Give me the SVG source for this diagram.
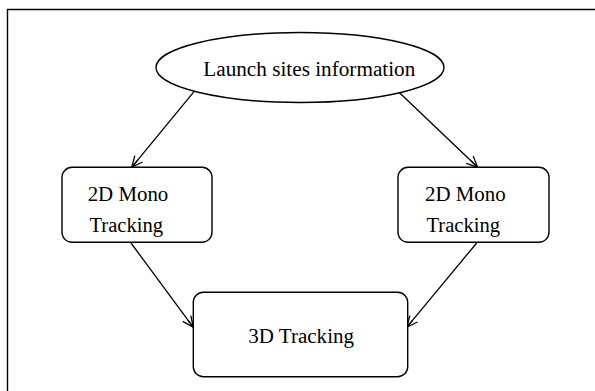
<svg xmlns="http://www.w3.org/2000/svg" width="595" height="391" viewBox="0 0 595 391">
<style>
.shape{fill:#fff;stroke:#000;stroke-width:1.4}
.lbl{font-family:"Liberation Serif","Times New Roman",serif;font-size:20px;fill:#000}
.edge{stroke:#000;stroke-width:1.3;fill:none;marker-end:url(#arr)}
</style>
<defs>
<marker id="arr" viewBox="0 0 13 11" refX="12" refY="5.5" markerWidth="13" markerHeight="11" markerUnits="userSpaceOnUse" orient="auto">
<path d="M1,0.5 L12,5.5 L1,10.5 M3,5.5 L12,5.5" fill="none" stroke="#000" stroke-width="1.3"/>
</marker>
</defs>
<rect width="595" height="391" fill="#fff"/>
<g id="frame">
<path d="M7.5,391 L7.5,9.5 L595,9.5" fill="none" stroke="#000" stroke-width="1.4"/>
</g>
<g id="connectors">
<line class="edge" x1="194" y1="91.7" x2="131.7" y2="167.3"/>
<line class="edge" x1="399" y1="92.3" x2="477.7" y2="167.3"/>
<line class="edge" x1="131" y1="243" x2="193.3" y2="327.3"/>
<line class="edge" x1="476.7" y1="243" x2="406.7" y2="327.3"/>
</g>
<g id="launch">
<ellipse class="shape" cx="300" cy="67.5" rx="144" ry="35"/>
<text class="lbl" x="203.3" y="76" textLength="212" lengthAdjust="spacingAndGlyphs">Launch sites information</text>
</g>
<g id="mono-left">
<rect class="shape" x="62" y="167.3" width="150" height="75" rx="10"/>
<text class="lbl" x="87.7" y="200.7" textLength="80.6" lengthAdjust="spacingAndGlyphs">2D Mono</text>
<text class="lbl" x="89.5" y="232" textLength="73.6" lengthAdjust="spacingAndGlyphs">Tracking</text>
</g>
<g id="mono-right">
<rect class="shape" x="398" y="167.3" width="151" height="75" rx="10"/>
<text class="lbl" x="425" y="200.7" textLength="80.6" lengthAdjust="spacingAndGlyphs">2D Mono</text>
<text class="lbl" x="426.5" y="232" textLength="73.6" lengthAdjust="spacingAndGlyphs">Tracking</text>
</g>
<g id="tracking3d">
<rect class="shape" x="193.3" y="292.3" width="214.4" height="84.4" rx="10"/>
<text class="lbl" x="248.3" y="343.3" textLength="105.7" lengthAdjust="spacingAndGlyphs">3D Tracking</text>
</g>
</svg>
